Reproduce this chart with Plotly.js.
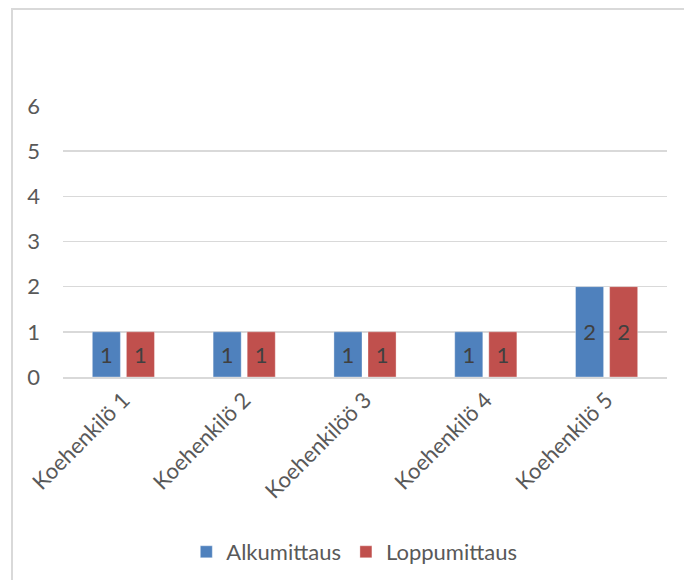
<!DOCTYPE html>
<html>
<head>
<meta charset="utf-8">
<script src="https://cdn.plot.ly/plotly-3.0.1.min.js"></script>
<style>
  html, body { margin: 0; padding: 0; background: #ffffff; }
  #frame {
    position: absolute; left: 11px; top: 8px; width: 700px; height: 600px;
    border: 2px solid #d9d9d9; box-sizing: border-box;
  }
  #chart { position: absolute; left: 0; top: 0; width: 684px; height: 580px; }
</style>
</head>
<body>
<div id="frame"></div>
<div id="chart"></div>
<script>
// Categories and the two measurement series
const categories = ["Koehenkilö 1", "Koehenkilö 2", "Koehenkilöö 3", "Koehenkilö 4", "Koehenkilö 5"];
const alkumittaus = [1, 1, 1, 1, 2];
const loppumittaus = [1, 1, 1, 1, 2];
const seriesNames = ["Alkumittaus", "Loppumittaus"];
const yTicks = [0, 1, 2, 3, 4, 5, 6];

const FONT = "Lato, 'Open Sans', sans-serif";
const GREY = "#595959";
const SIZE = 22;

function barTrace(name, values, color) {
  return {
    type: "bar",
    name: name,
    x: categories,
    y: values,
    text: values.map(String),
    textposition: "inside",
    insidetextanchor: "middle",
    textangle: 0,
    textfont: { family: FONT, size: SIZE, color: "#404040" },
    marker: { color: color, line: { color: "rgba(255,255,255,0.35)", width: 1 } },
    hoverinfo: "x+y+name"
  };
}

const data = [
  barTrace(seriesNames[0], alkumittaus, "#4f81bd"),
  barTrace(seriesNames[1], loppumittaus, "#c0504d")
];

const layout = {
  width: 684,
  height: 580,
  margin: { l: 63, r: 17, t: 106, b: 203 },
  paper_bgcolor: "rgba(0,0,0,0)",
  plot_bgcolor: "rgba(0,0,0,0)",
  barmode: "group",
  bargap: 0.436,
  bargroupgap: 0.176,
  font: { family: FONT, size: SIZE, color: GREY },
  xaxis: {
    type: "category",
    tickangle: -45,
    showgrid: false,
    showline: true,
    linecolor: "#d9d9d9",
    linewidth: 1.5,
    ticks: "",
    tickfont: { family: FONT, size: SIZE, color: GREY },
    automargin: false
  },
  yaxis: {
    range: [0, 6],
    tickvals: yTicks,
    ticktext: yTicks.map(String),
    showgrid: true,
    gridcolor: "#d9d9d9",
    gridwidth: 1.5,
    zeroline: false,
    showline: false,
    ticks: "",
    ticklabelstandoff: 22,
    tickfont: { family: FONT, size: SIZE, color: GREY },
    automargin: false
  },
  showlegend: true,
  legend: {
    orientation: "h",
    x: 0.518,
    xanchor: "center",
    xref: "container",
    y: 28 / 580,
    yref: "container",
    yanchor: "middle",
    font: { family: FONT, size: SIZE, color: GREY },
    itemwidth: 30,
    tracegroupgap: 0
  }
};

Plotly.newPlot("chart", data, layout, { displayModeBar: false, staticPlot: true });
</script>
</body>
</html>
